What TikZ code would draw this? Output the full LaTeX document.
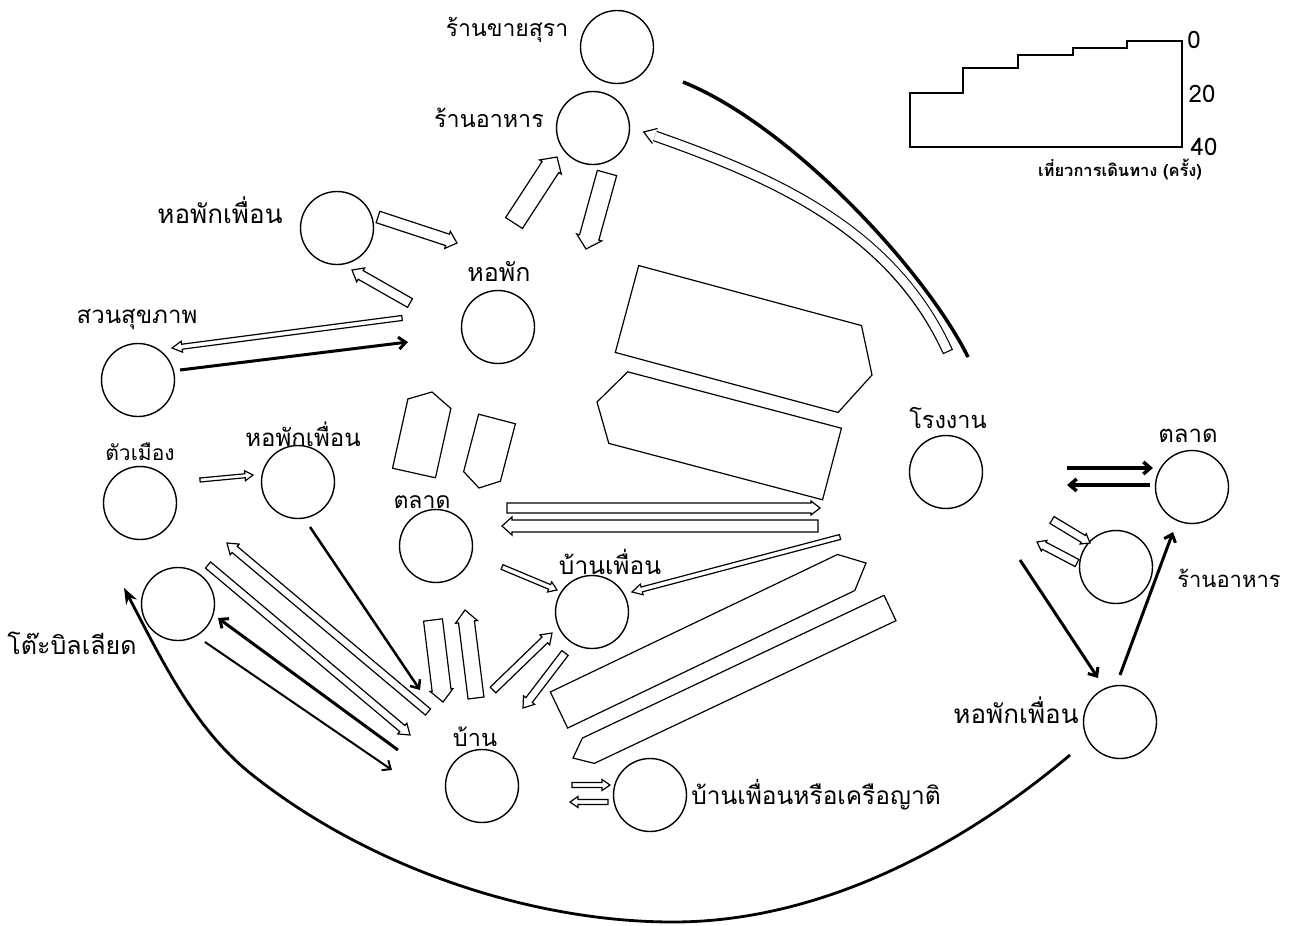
\documentclass[tikz,border=0pt]{standalone}
\usepackage{fontspec}
\newfontfamily\thaifont[Script=Thai]{Loma}
\usetikzlibrary{calc,arrows.meta}

\tikzset{
  place/.style={circle, draw, line width=1.4pt, minimum size=73pt, inner sep=0pt},
  tag/.style={font=\thaifont\fontsize{#1}{#1}\selectfont, inner sep=0pt},
  band/.style={draw, line width=1.2pt, fill=white},
  trail/.style={line width=3pt, -{Straight Barb[length=7pt,width=12pt]}},
}

% open flow arrow: start, tip, half width, head length, barb
\newcommand\flow[5]{%
  \pgfmathsetmacro\flowout{#3+#5}
  \coordinate (fb) at ($(#2)!#4pt!(#1)$);
  \draw[band] ($(#1)!#3pt!90:(#2)$) -- ($(fb)!#3pt!-90:(#1)$) -- ($(fb)!\flowout pt!-90:(#1)$) -- (#2)
    -- ($(fb)!\flowout pt!90:(#1)$) -- ($(fb)!#3pt!90:(#1)$) -- ($(#1)!#3pt!-90:(#2)$) -- cycle;
}

\begin{document}
\begin{tikzpicture}[x=1pt, y=-1pt]
\useasboundingbox (0,0) rectangle (1299,926);

% places
\node[place] (liquor) at (617,47) {};
\node[place] (food) at (593,128) {};
\node[place] (fdormA) at (337,228) {};
\node[place] (dorm) at (498,327) {};
\node[place] (park) at (138,380) {};
\node[place] (town) at (140,503) {};
\node[place] (fdormB) at (298,482) {};
\node[place] (pool) at (178,604) {};
\node[place] (market) at (436,546) {};
\node[place] (fhome) at (592,612) {};
\node[place] (home) at (482,786) {};
\node[place] (kin) at (650,795) {};
\node[place] (factory) at (946,472) {};
\node[place] (marketR) at (1192,487) {};
\node[place] (foodR) at (1116,567) {};
\node[place] (fdormR) at (1120,722) {};

\node[tag=23] (liquor-t) at (507,30) {ร้านขายสุรา};
\node[tag=23.3] (food-t) at (489,118) {ร้านอาหาร};
\node[tag=26] (fdormA-t) at (220,210) {หอพักเพื่อน};
\node[tag=25] (dorm-t) at (499,272) {หอพัก};
\node[tag=24] (park-t) at (137,320) {สวนสุขภาพ};
\node[tag=21] (town-t) at (140,452) {ตัวเมือง};
\node[tag=24] (fdormB-t) at (303,434) {หอพักเพื่อน};
\node[tag=25] (pool-t) at (72,643) {โต๊ะบิลเลียด};
\node[tag=23] (market-t) at (422,502) {ตลาด};
\node[tag=24.5] (fhome-t) at (610,562) {บ้านเพื่อน};
\node[tag=23.5] (home-t) at (475,737) {บ้าน};
\node[tag=24.5] (kin-t) at (816,795) {บ้านเพื่อนหรือเครือญาติ};
\node[tag=23.5] (factory-t) at (948,418) {โรงงาน};
\node[tag=24] (marketR-t) at (1188,436) {ตลาด};
\node[tag=22] (foodR-t) at (1229,578) {ร้านอาหาร};
\node[tag=26] (fdormR-t) at (1016,710) {หอพักเพื่อน};

% scale of trips
\draw[line width=1.3pt] (910,147) -- (910,93) -- (963,93) -- (963,68) -- (1018,68) -- (1018,55)
  -- (1073,55) -- (1073,48) -- (1127,48) -- (1127,41) -- (1182,41) -- (1182,147) -- cycle;
\node[tag=24] (s0) at (1194,40) {0};
\node[tag=24] (s20) at (1202,94) {20};
\node[tag=24] (s40) at (1204,147) {40};
\node[tag=16.5] (s-t) at (1120,169) {\bfseries เที่ยวการเดินทาง (ครั้ง)};

% flow ends
\coordinate (dorm-food-1) at (514,223);   \coordinate (dorm-food-2) at (557,157);
\coordinate (food-dorm-1) at (607,173);   \coordinate (food-dorm-2) at (586,249);
\coordinate (fdA-dorm-1) at (378,217);    \coordinate (fdA-dorm-2) at (457,243);
\coordinate (dorm-fdA-1) at (410,303);    \coordinate (dorm-fdA-2) at (352,270);
\coordinate (dorm-park-1) at (402,318);   \coordinate (dorm-park-2) at (172,348);
\coordinate (park-dorm-1) at (180,370);   \coordinate (park-dorm-2) at (408,342);
\coordinate (dorm-fac-1) at (627,309);    \coordinate (dorm-fac-2) at (872,375);
\coordinate (fac-dorm-1) at (832,464);    \coordinate (fac-dorm-2) at (597,402);
\coordinate (mkt-dorm-1) at (414,473);    \coordinate (mkt-dorm-2) at (432,392);
\coordinate (dorm-mkt-1) at (497,419);    \coordinate (dorm-mkt-2) at (479,488);
\coordinate (mkt-fac-1) at (507,508);     \coordinate (mkt-fac-2) at (820,508);
\coordinate (fac-mkt-1) at (818,526);     \coordinate (fac-mkt-2) at (502,526);
\coordinate (town-fdB-1) at (200,480);    \coordinate (town-fdB-2) at (253,475);
\coordinate (fdB-home-1) at (310,527);    \coordinate (fdB-home-2) at (420,690);
\coordinate (home-town-1) at (428,712);   \coordinate (home-town-2) at (227,543);
\coordinate (town-home-1) at (208,565);   \coordinate (town-home-2) at (410,735);
\coordinate (home-pool-1) at (398,750);   \coordinate (home-pool-2) at (218,618);
\coordinate (pool-home-1) at (205,642);   \coordinate (pool-home-2) at (392,770);
\coordinate (mkt-fh-1) at (502,567);      \coordinate (mkt-fh-2) at (557,590);
\coordinate (mkt-home-1) at (433,620);    \coordinate (mkt-home-2) at (443,702);
\coordinate (home-mkt-1) at (476,698);    \coordinate (home-mkt-2) at (465,610);
\coordinate (home-fh-1) at (493,690);     \coordinate (home-fh-2) at (552,633);
\coordinate (fh-home-1) at (565,653);     \coordinate (fh-home-2) at (523,708);
\coordinate (home-kin-1) at (572,785);    \coordinate (home-kin-2) at (610,785);
\coordinate (kin-home-1) at (608,802);    \coordinate (kin-home-2) at (570,802);
\coordinate (fac-fh-1) at (840,537);      \coordinate (fac-fh-2) at (632,592);
\coordinate (home-fac-1) at (559,710);    \coordinate (home-fac-2) at (866,563);
\coordinate (fac-kin-1) at (890,608);     \coordinate (fac-kin-2) at (573,758);
\coordinate (fac-mR-1) at (1067,468);     \coordinate (fac-mR-2) at (1153,468);
\coordinate (mR-fac-1) at (1150,485);     \coordinate (mR-fac-2) at (1067,485);
\coordinate (fac-fR-1) at (1052,520);     \coordinate (fac-fR-2) at (1090,543);
\coordinate (fR-fac-1) at (1077,563);     \coordinate (fR-fac-2) at (1037,542);
\coordinate (fac-fdR-1) at (1020,560);    \coordinate (fac-fdR-2) at (1098,678);
\coordinate (fdR-mR-1) at (1120,675);     \coordinate (fdR-mR-2) at (1173,532);
\coordinate (fac-food-1) at (948,352);    \coordinate (fac-food-2) at (655,136);
\coordinate (liq-fac-1) at (683,82);      \coordinate (liq-fac-2) at (968,357);
\coordinate (fdR-pool-1) at (1070,755);   \coordinate (fdR-pool-2) at (124,588);

\flow{dorm-food-1}{dorm-food-2}{10}{12}{3}
\flow{food-dorm-1}{food-dorm-2}{10}{12}{3}
\flow{fdA-dorm-1}{fdA-dorm-2}{6}{10}{3}
\flow{dorm-fdA-1}{dorm-fdA-2}{5}{10}{3}
\flow{dorm-park-1}{dorm-park-2}{2.5}{10}{3}
\draw[trail] (park-dorm-1) -- (park-dorm-2);
\flow{dorm-fac-1}{dorm-fac-2}{45}{23}{0}
\flow{fac-dorm-1}{fac-dorm-2}{37}{22}{0}
\flow{mkt-dorm-1}{mkt-dorm-2}{22}{12}{0}
\flow{dorm-mkt-1}{dorm-mkt-2}{19}{12}{0}
\flow{mkt-fac-1}{mkt-fac-2}{5}{9}{2}
\flow{fac-mkt-1}{fac-mkt-2}{6}{10}{3}
\flow{town-fdB-1}{town-fdB-2}{2}{8}{3}
\draw[trail, line width=2.5pt] (fdB-home-1) -- (fdB-home-2);
\flow{home-town-1}{home-town-2}{4}{10}{3}
\flow{town-home-1}{town-home-2}{4}{10}{3}
\draw[trail] (home-pool-1) -- (home-pool-2);
\draw[trail, line width=2pt] (pool-home-1) -- (pool-home-2);
\flow{mkt-fh-1}{mkt-fh-2}{2.5}{8}{3}
\flow{mkt-home-1}{mkt-home-2}{9.5}{12}{2}
\flow{home-mkt-1}{home-mkt-2}{8}{12}{3}
\flow{home-fh-1}{home-fh-2}{4}{10}{3}
\flow{fh-home-1}{fh-home-2}{4}{10}{3}
\flow{home-kin-1}{home-kin-2}{2.5}{8}{3}
\flow{kin-home-1}{kin-home-2}{2.5}{8}{3}
\flow{fac-fh-1}{fac-fh-2}{2.5}{10}{3}
\flow{home-fac-1}{home-fac-2}{20}{22}{0}
\flow{fac-kin-1}{fac-kin-2}{14}{17}{0}
\draw[trail, line width=3.5pt] (fac-mR-1) -- (fac-mR-2);
\draw[trail, line width=3.5pt] (mR-fac-1) -- (mR-fac-2);
\flow{fac-fR-1}{fac-fR-2}{4}{8}{2}
\flow{fR-fac-1}{fR-fac-2}{4}{8}{2}
\draw[trail] (fac-fdR-1) -- (fac-fdR-2);
\draw[trail] (fdR-mR-1) -- (fdR-mR-2);

% curved flows
\draw[line width=11pt] (fac-food-1) .. controls (890,225) and (765,175) .. (fac-food-2);
\draw[line width=8.6pt, white, shorten <=1.2pt] (fac-food-1) .. controls (890,225) and (765,175) .. (fac-food-2);
\draw[line width=1.2pt] (657.6,128.5) -- (643.7,132) -- (652.4,143.5);
\draw[line width=3.5pt] (liq-fac-1) .. controls (790,125) and (925,270) .. (liq-fac-2);
\draw[line width=2.8pt, -{Stealth[length=16pt,width=12pt]}] (fdR-pool-1)
  .. controls (955,852) and (815,922) .. (673,922)
  .. controls (530,922) and (367,867) .. (250,773)
  .. controls (193,727) and (161,658) .. (fdR-pool-2);

\end{tikzpicture}
\end{document}
